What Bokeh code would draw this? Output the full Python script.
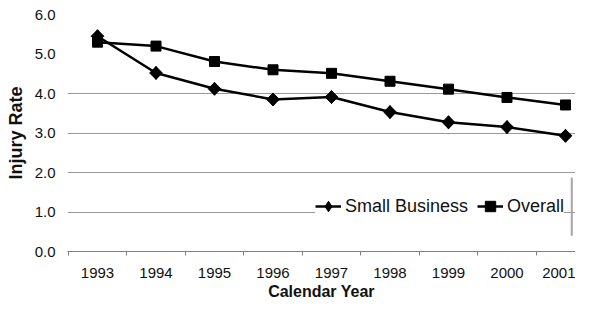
import numpy as np
from bokeh.plotting import figure
from bokeh.models import (FixedTicker, Range1d, Legend, LegendItem,
                          NumeralTickFormatter, BoxAnnotation)
from bokeh.embed import file_html
from bokeh.resources import INLINE

# ---- data ----
years = ["1993", "1994", "1995", "1996", "1997", "1998", "1999", "2000", "2001"]
small_business = [5.45, 4.52, 4.12, 3.85, 3.91, 3.53, 3.27, 3.15, 2.93]
overall = [5.30, 5.20, 4.81, 4.60, 4.51, 4.31, 4.11, 3.90, 3.71]
y_ticks = [0, 1, 2, 3, 4, 5, 6]
grid_ticks = [1, 2, 3, 4]

x = list(range(len(years)))
FONT = "Liberation Sans"

p = figure(width=575, height=302,
           x_range=Range1d(-0.513, 8.171), y_range=Range1d(0, 6),
           output_backend="svg", toolbar_location=None,
           min_border_left=67, min_border_right=0,
           min_border_top=14, min_border_bottom=50)
p.outline_line_color = None
p.background_fill_color = "white"
p.border_fill_color = "white"

r1 = p.line(x, small_business, line_color="black", line_width=2.5)
# diamond glyph hidden beneath the rotated squares; used for the legend symbol
leg_diamond = p.scatter(x, small_business, marker="diamond", size=13, color="black")
m1 = p.scatter(x, small_business, marker="square", angle=np.pi / 4,
               size=9, color="black")
r2 = p.line(x, overall, line_color="black", line_width=2.5)
m2 = p.scatter(x, overall, marker="square", size=10, color="black")

# grid
p.xgrid.visible = False
p.ygrid.ticker = FixedTicker(ticks=grid_ticks)
p.ygrid.grid_line_color = "#999999"
p.ygrid.grid_line_width = 1

# x axis
xa = p.xaxis[0]
xa.ticker = FixedTicker(ticks=x, minor_ticks=[i - 0.5 for i in x] + [x[-1] + 0.5])
xa.major_label_overrides = {i: y for i, y in zip(x, years)}
xa.major_tick_line_color = None
xa.major_tick_out = 0
xa.major_tick_in = 0
xa.minor_tick_line_color = "#808080"
xa.minor_tick_out = 4
xa.minor_tick_in = 0
xa.axis_line_color = "#808080"
xa.axis_line_width = 1
xa.major_label_text_font = FONT
xa.major_label_text_font_size = "15px"
xa.major_label_text_color = "#111111"
xa.major_label_standoff = 12
xa.axis_label = "Calendar Year"
xa.axis_label_text_font = FONT
xa.axis_label_text_font_size = "16px"
xa.axis_label_text_font_style = "bold"
xa.axis_label_text_color = "#111111"
xa.axis_label_standoff = 2

# y axis
ya = p.yaxis[0]
ya.ticker = FixedTicker(ticks=y_ticks)
ya.formatter = NumeralTickFormatter(format="0.0")
ya.axis_line_color = None
ya.major_tick_line_color = None
ya.minor_tick_line_color = None
ya.major_tick_out = 0
ya.major_tick_in = 0
ya.major_label_text_font = FONT
ya.major_label_text_font_size = "15px"
ya.major_label_text_color = "#111111"
ya.major_label_standoff = 12
ya.axis_label = "Injury Rate"
ya.axis_label_text_font = FONT
ya.axis_label_text_font_size = "18px"
ya.axis_label_text_font_style = "bold"
ya.axis_label_text_color = "#111111"
ya.axis_label_standoff = 6

# legend
legend = Legend(items=[LegendItem(label="Small Business", renderers=[r1, leg_diamond]),
                       LegendItem(label="Overall", renderers=[r2, m2])],
                orientation="horizontal", location=(248, 21))
legend.label_text_font = FONT
legend.label_text_font_size = "18px"
legend.label_text_color = "#111111"
legend.glyph_width = 26
legend.glyph_height = 48
legend.label_height = 48
legend.label_standoff = 4
legend.spacing = 9
legend.padding = 5
legend.margin = 0
legend.background_fill_color = "white"
legend.background_fill_alpha = 1
legend.border_line_color = None
p.add_layout(legend)

# thin gray edge at the right side of the legend
p.add_layout(BoxAnnotation(left=8.09, right=8.125, bottom=0.40, top=1.865,
                           fill_color="#a6a6a6", fill_alpha=1, line_color=None,
                           level="overlay"))

open("out.html", "w").write(file_html(p, INLINE))
